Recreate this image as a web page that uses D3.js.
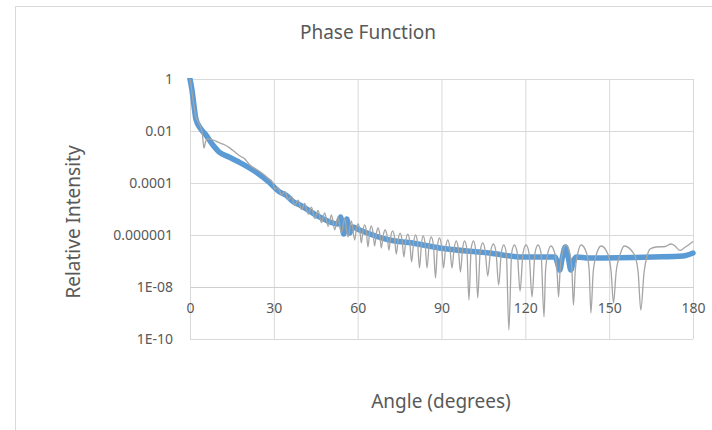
<!DOCTYPE html>
<html>
<head>
<meta charset="utf-8">
<script src="https://cdn.jsdelivr.net/npm/d3@7"></script>
<style>
  body { margin: 0; background: #fff; }
  svg { display: block; }
  text { font-family: "Noto Sans", sans-serif; fill: #595959; }
</style>
</head>
<body>
<svg id="chart" width="712" height="430"></svg>
<script>

// axis ticks
const xTicks = [0, 30, 60, 90, 120, 150, 180];
const yTicks = [1, 1e-2, 1e-4, 1e-6, 1e-8, 1e-10];
const yTickLabels = ["1", "0.01", "0.0001", "0.000001", "1E-08", "1E-10"];

// smooth series (thick blue) : [angle, relative intensity]
const bluePoints = [
	[0, 1], [0.7, 0.38], [1.4, 0.1], [2.1, 0.029], [3.9, 0.0119], [5.7, 0.007],
	[8.2, 0.0029], [10.4, 0.00156], [13.9, 0.001], [17.5, 6.4e-4], [22.5, 3.16e-4],
	[28.2, 1.09e-4], [32.1, 4.5e-5], [34.3, 3.45e-5], [37.1, 1.86e-5], [39.3, 1.43e-5],
	[46.4, 4.9e-6], [52.9, 2.65e-6], [53.9, 4.9e-6], [55.0, 1.09e-6], [56.1, 4.1e-6],
	[57.1, 1.19e-6], [58.2, 2.03e-6], [60.7, 1.56e-6], [71.4, 6.4e-7], [79.6, 4.9e-7],
	[89.3, 3.16e-7], [107.1, 2.03e-7], [118.9, 1.43e-7], [130.7, 1.43e-7], [131.4, 9.2e-8],
	[132.3, 4.5e-8], [133.2, 1.3e-7], [134.3, 3.45e-7], [135.4, 1.3e-7], [136.3, 4.5e-8],
	[137.1, 9.2e-8], [138.2, 1.43e-7], [142.9, 1.3e-7], [165.7, 1.43e-7], [176.4, 1.56e-7],
	[180, 2.03e-7]
];

// oscillating series (thin gray) : [angle, relative intensity]
const grayPoints = [
	[0, 1], [0.36, 0.59], [0.89, 0.22], [1.43, 0.092], [2.14, 0.0345], [3.21, 0.0203],
	[3.93, 0.013], [4.46, 0.007], [5.0, 0.0022], [5.54, 0.0038], [6.07, 0.0049], [7.14, 0.0049],
	[8.21, 0.0045], [9.29, 0.0041], [10.71, 0.00345], [12.5, 0.0029], [14.29, 0.0022],
	[16.07, 0.00156], [17.86, 0.00109], [19.64, 8.4e-4], [21.43, 4.9e-4], [23.57, 3.45e-4],
	[25.71, 2.43e-4], [27.86, 1.56e-4], [29.64, 1.0e-4],
	[30.36, 5.87e-5], [31.57, 6.43e-5], [32.75, 3.45e-5], [33.93, 4.71e-5], [35.14, 2.30e-5],
	[36.32, 3.03e-5], [37.5, 1.36e-5], [38.71, 2.18e-5], [39.89, 9.57e-6], [41.07, 1.63e-5],
	[42.29, 6.43e-6], [43.46, 1.19e-5], [44.64, 4.31e-6], [45.86, 8.75e-6], [47.04, 2.97e-6],
	[48.21, 7.02e-6], [49.43, 2.16e-6], [50.61, 5.87e-6], [51.79, 1.58e-6], [52.96, 4.92e-6],
	[54.18, 1.19e-6], [55.36, 4.31e-6], [56.54, 8.38e-7], [57.75, 3.45e-6], [58.93, 6.43e-7],
	[59.54, 1.73e-6], [60.11, 2.65e-6], [60.71, 1.73e-6], [61.32, 4.92e-7],
	[61.91, 1.50e-6], [62.5, 2.43e-6], [63.09, 1.50e-6], [63.68, 3.45e-7],
	[64.29, 1.30e-6], [64.89, 2.22e-6], [65.46, 1.30e-6], [66.07, 3.78e-7],
	[66.68, 1.15e-6], [67.25, 1.86e-6], [67.86, 1.15e-6], [68.46, 3.16e-7],
	[69.14, 9.66e-7], [69.82, 1.56e-6], [70.5, 9.66e-7], [71.18, 2.65e-7],
	[71.84, 8.61e-7], [72.5, 1.43e-6], [73.16, 8.61e-7], [73.82, 1.86e-7],
	[74.5, 6.84e-7], [75.18, 1.19e-6], [75.86, 6.84e-7], [76.54, 1.43e-7],
	[77.21, 5.93e-7], [77.93, 1.09e-6], [78.61, 5.93e-7], [79.29, 9.16e-8],
	[80.0, 4.92e-7], [80.71, 1.0e-6], [81.43, 4.92e-7], [82.14, 5.38e-8],
	[82.82, 4.51e-7], [83.46, 9.16e-7], [84.14, 4.51e-7], [84.82, 5.38e-8],
	[85.57, 4.12e-7], [86.32, 8.38e-7], [87.11, 4.12e-7], [87.86, 2.22e-8],
	[88.57, 3.78e-7], [89.29, 7.67e-7], [90.0, 3.78e-7], [90.71, 5.38e-8],
	[91.46, 3.16e-7], [92.25, 6.43e-7], [93.0, 3.16e-7], [93.75, 5.38e-8],
	[94.5, 2.90e-7], [95.25, 5.87e-7], [96.04, 2.90e-7], [96.79, 3.78e-8],
	[97.54, 2.90e-7], [98.21, 5.87e-7], [99.07, 2.90e-7], [99.82, 3.16e-9],
	[100.61, 2.90e-7], [101.43, 5.87e-7], [102.18, 2.90e-7], [102.96, 3.78e-9],
	[103.86, 2.43e-7], [104.75, 4.92e-7], [105.64, 2.43e-7], [106.54, 2.65e-8],
	[107.54, 2.22e-7], [108.57, 4.51e-7], [109.5, 2.22e-7], [110.46, 1.19e-8],
	[111.39, 2.03e-7], [112.25, 4.12e-7], [113.2, 2.03e-7], [114.11, 2.22e-10],
	[115.11, 2.03e-7], [116.07, 4.12e-7], [117.11, 2.03e-7], [118.11, 7.02e-9],
	[119.18, 2.03e-7], [120.25, 4.12e-7], [121.32, 2.03e-7], [122.39, 4.12e-9],
	[123.46, 2.03e-7], [124.54, 4.12e-7], [125.61, 2.03e-7], [126.68, 7.02e-10],
	[127.21, 3.78e-8], [127.98, 1.86e-7], [129.18, 3.78e-7], [130.59, 1.86e-7], [131.36, 3.78e-8], [131.89, 4.12e-9],
	[132.43, 4.12e-8], [133.21, 2.03e-7], [134.54, 4.12e-7], [135.89, 2.03e-7], [136.68, 4.12e-8], [137.21, 2.03e-9],
	[137.86, 4.12e-8], [138.79, 2.03e-7], [140.0, 4.12e-7], [141.89, 2.03e-7], [142.86, 4.12e-8], [143.46, 1.0e-9],
	[144.29, 3.78e-8], [145.48, 1.86e-7], [147.14, 3.78e-7], [149.52, 1.86e-7], [150.71, 3.78e-8], [151.54, 2.43e-9],
	[152.5, 3.78e-8], [153.98, 1.86e-7], [155.36, 3.78e-7], [158.88, 1.86e-7], [160.36, 3.78e-8], [161.32, 1.30e-9],
	[162.5, 3.78e-8], [163.57, 1.56e-7], [164.64, 2.90e-7], [166.79, 3.45e-7], [170.0, 3.61e-7],
	[172.14, 4.51e-7], [173.57, 3.78e-7], [175.36, 2.54e-7], [176.79, 3.16e-7], [180, 5.62e-7]
];

const svg = d3.select("#chart");

// chart frame
svg.append("rect")
	.attr("x", 15.5).attr("y", 6.5)
	.attr("width", 720).attr("height", 440)
	.attr("fill", "none").attr("stroke", "#d9d9d9");

const plotLeft = 190, plotRight = 693, plotTop = 79, plotBottom = 339;

const x = d3.scaleLinear().domain([0, 180]).range([plotLeft, plotRight]);
const y = d3.scaleLog().domain([1e-10, 1]).range([plotBottom, plotTop]);

// gridlines
svg.append("g")
	.attr("transform", "translate(" + plotLeft + ",0)")
	.call(d3.axisLeft(y).tickValues(yTicks).tickSize(-(plotRight - plotLeft)).tickFormat(""))
	.call(g => g.select(".domain").remove())
	.call(g => g.selectAll("line").attr("stroke", "#d9d9d9"));

svg.append("g")
	.attr("transform", "translate(0," + plotBottom + ")")
	.call(d3.axisBottom(x).tickValues(xTicks).tickSize(-(plotBottom - plotTop)).tickFormat(""))
	.call(g => g.select(".domain").remove())
	.call(g => g.selectAll("line").attr("stroke", "#d9d9d9"));

// y tick labels
svg.append("g")
	.attr("transform", "translate(" + plotLeft + ",0)")
	.call(d3.axisLeft(y).tickValues(yTicks).tickSize(0).tickPadding(17)
		.tickFormat((d, i) => yTickLabels[i]))
	.call(g => g.select(".domain").remove())
	.call(g => g.selectAll("text").attr("font-size", "14px").attr("font-family", null).attr("fill", "#595959"));

// x axis crosses at 1E-08
svg.append("g")
	.attr("transform", "translate(0," + y(1e-8) + ")")
	.call(d3.axisBottom(x).tickValues(xTicks).tickSize(0).tickPadding(16))
	.call(g => g.select(".domain").attr("stroke", "#cfcfcf"))
	.call(g => g.selectAll("text").attr("font-size", "14px").attr("font-family", null).attr("fill", "#595959"));

svg.append("clipPath").attr("id", "plotClip")
	.append("rect")
	.attr("x", plotLeft - 4).attr("y", plotTop - 1)
	.attr("width", plotRight - plotLeft + 8).attr("height", plotBottom - plotTop + 2);

const line = d3.line()
	.x(d => x(d[0]))
	.y(d => y(d[1]))
	.curve(d3.curveMonotoneX);

const plot = svg.append("g").attr("clip-path", "url(#plotClip)");

plot.append("path")
	.datum(bluePoints)
	.attr("d", line)
	.attr("fill", "none")
	.attr("stroke", "#5b9bd5")
	.attr("stroke-width", 5.5)
	.attr("stroke-linejoin", "round")
	.attr("stroke-linecap", "round");

plot.append("path")
	.datum(grayPoints)
	.attr("d", line)
	.attr("fill", "none")
	.attr("stroke", "#a5a5a5")
	.attr("stroke-width", 1.3)
	.attr("stroke-linejoin", "round");

// titles
svg.append("text")
	.attr("x", 368).attr("y", 39)
	.attr("text-anchor", "middle")
	.attr("font-size", "19px")
	.text("Phase Function");

svg.append("text")
	.attr("transform", "translate(80,222) rotate(-90)")
	.attr("text-anchor", "middle")
	.attr("font-size", "19px")
	.text("Relative Intensity");

svg.append("text")
	.attr("x", 441).attr("y", 408)
	.attr("text-anchor", "middle")
	.attr("font-size", "19px")
	.text("Angle (degrees)");

</script>
</body>
</html>
